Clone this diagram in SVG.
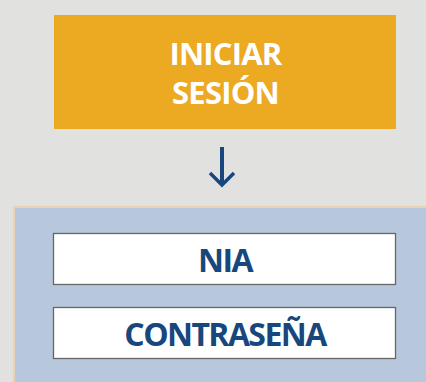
<svg xmlns="http://www.w3.org/2000/svg" width="426" height="382" viewBox="0 0 426 382">
<style>
.t{font-family:"Open Sans","Liberation Sans",sans-serif;font-weight:bold;text-anchor:middle}
.w{fill:#ffffff;font-size:31px;letter-spacing:-0.8px}
.b{fill:#17477d;font-size:32px;letter-spacing:-1.6px}
.fld{fill:#ffffff;stroke:#666666;stroke-width:1.3}
</style>
<rect width="426" height="382" fill="#e1e1df"/>
<g id="iniciar">
<rect x="54" y="15" width="342" height="114" fill="#eca922"/>
<text class="t w" x="225.5" y="65">INICIAR</text>
<text class="t w" x="225.5" y="104">SESIÓN</text>
</g>
<g id="connectors">
<path d="M222 147V185" stroke="#17477d" stroke-width="4" fill="none"/>
<path d="M210 173L222 185L234 173" stroke="#17477d" stroke-width="3.5" fill="none"/>
</g>
<g id="panel">
<rect x="14" y="207" width="420" height="190" fill="#b8c8dc" stroke="#ead3b0" stroke-width="2"/>
</g>
<g id="nia">
<rect class="fld" x="53.5" y="233.5" width="342" height="51"/>
<text class="t b" x="225" y="272">NIA</text>
</g>
<g id="contrasena">
<rect class="fld" x="53.5" y="307.5" width="342" height="51"/>
<text class="t b" x="225" y="346">CONTRASEÑA</text>
</g>
</svg>
